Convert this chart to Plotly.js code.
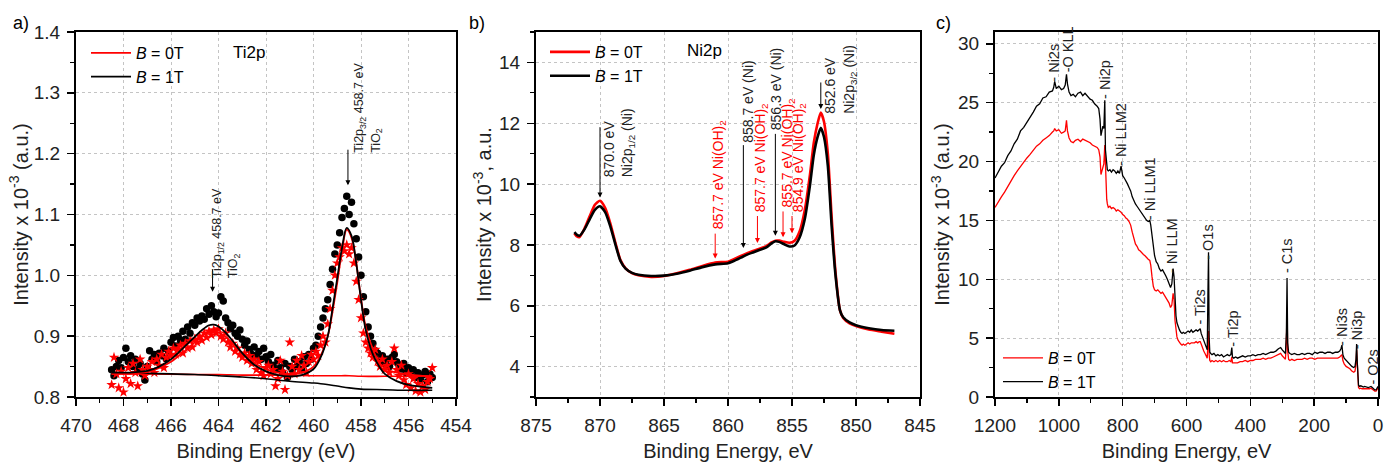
<!DOCTYPE html>
<html><head><meta charset="utf-8">
<script src="https://cdn.plot.ly/plotly-3.0.1.min.js"></script>
<style>html,body{margin:0;padding:0;background:#fff}#chart{width:1386px;height:462px}</style>
</head><body><div id="chart"></div>
<script>
// ---------- Panel a: Ti2p ----------
const tiX = [468.5,468.4,468.3,468.2,468.1,468.0,
467.9,467.8,467.7,467.6,467.5,467.4,467.3,467.2,467.1,467.0,
466.9,466.8,466.7,466.6,466.5,466.4,466.3,466.2,466.1,466.0,
465.9,465.8,465.7,465.6,465.5,465.4,465.3,465.2,465.1,465.0,
464.9,464.8,464.7,464.6,464.5,464.4,464.3,464.2,464.1,464.0,
463.9,463.8,463.7,463.6,463.5,463.4,463.3,463.2,463.1,463.0,
462.9,462.8,462.7,462.6,462.5,462.4,462.3,462.2,462.1,462.0,
461.9,461.8,461.7,461.6,461.5,461.4,461.3,461.2,461.1,461.0,
460.9,460.8,460.7,460.6,460.5,460.4,460.3,460.2,460.1,460.0,
459.9,459.8,459.7,459.6,459.5,459.4,459.3,459.2,459.1,459.0,
458.9,458.8,458.7,458.6,458.5,458.4,458.3,458.2,458.1,458.0,
457.9,457.8,457.7,457.6,457.5,457.4,457.3,457.2,457.1,457.0,
456.9,456.8,456.7,456.6,456.5,456.4,456.3,456.2,456.1,456.0,
455.9,455.8,455.7,455.6,455.5,455.4,455.3,455.2,455.1,455.0];
const ti1T = [0.845,0.835,0.850,0.860,0.848,0.865,
0.880,0.858,0.868,0.850,0.862,0.845,0.855,0.838,0.828,0.850,
0.876,0.862,0.870,0.858,0.872,0.868,0.880,0.863,0.875,0.890,
0.898,0.884,0.900,0.893,0.908,0.895,0.915,0.905,0.922,0.918,
0.930,0.925,0.933,0.928,0.945,0.936,0.950,0.940,0.932,0.938,
0.965,0.958,0.930,0.922,0.912,0.918,0.905,0.900,0.910,0.895,
0.885,0.892,0.878,0.870,0.882,0.868,0.875,0.862,0.880,0.866,
0.858,0.870,0.852,0.845,0.860,0.848,0.840,0.855,0.832,0.850,
0.845,0.862,0.850,0.858,0.845,0.866,0.855,0.870,0.862,0.880,
0.885,0.900,0.915,0.930,0.945,0.960,0.985,1.010,1.035,1.050,
1.070,1.095,1.110,1.130,1.100,1.120,1.085,1.060,1.030,1.000,
0.965,0.940,0.915,0.900,0.888,0.876,0.872,0.860,0.868,0.855,
0.862,0.850,0.865,0.870,0.858,0.852,0.846,0.855,0.840,0.848,
0.838,0.845,0.832,0.840,0.828,0.836,0.842,0.825,0.838,0.832];
const ti0T = [0.820,0.865,0.838,0.815,0.842,0.808,
0.830,0.848,0.822,0.855,0.840,0.818,0.862,0.845,0.835,0.850,
0.845,0.858,0.840,0.862,0.852,0.870,0.848,0.865,0.875,0.868,
0.880,0.870,0.878,0.885,0.872,0.888,0.880,0.892,0.882,0.895,
0.890,0.900,0.893,0.905,0.898,0.908,0.902,0.910,0.905,0.912,
0.900,0.895,0.905,0.890,0.882,0.888,0.875,0.880,0.870,0.865,
0.872,0.860,0.868,0.855,0.862,0.845,0.858,0.840,0.835,0.848,
0.852,0.838,0.845,0.818,0.830,0.860,0.842,0.812,0.835,0.890,
0.850,0.838,0.860,0.845,0.868,0.852,0.840,0.858,0.870,0.862,
0.875,0.868,0.885,0.900,0.890,0.920,0.945,0.975,1.000,1.020,
1.030,1.045,1.040,1.050,1.035,1.045,1.020,0.990,0.960,0.930,
0.905,0.890,0.880,0.872,0.865,0.878,0.858,0.850,0.862,0.845,
0.852,0.840,0.858,0.880,0.845,0.835,0.852,0.828,0.820,0.838,
0.815,0.830,0.810,0.822,0.808,0.818,0.812,0.825,0.830,0.848];
const tiFitX = [468.5,468,467.5,467,466.5,466,465.5,465,464.7,464.4,464.2,464,463.7,463.4,463,462.5,462,461.5,461,460.5,460,459.7,459.4,459.2,459,458.8,458.6,458.4,458.2,458,457.8,457.5,457.2,457,456.5,456,455.5,455];
const tiFit1T = [0.840,0.840,0.841,0.843,0.850,0.862,0.880,0.899,0.910,0.918,0.919,0.916,0.906,0.892,0.872,0.853,0.842,0.836,0.834,0.836,0.846,0.865,0.900,0.945,0.995,1.045,1.078,1.065,1.020,0.960,0.910,0.870,0.848,0.838,0.826,0.820,0.817,0.815];
const tiFit0T = [0.838,0.838,0.839,0.841,0.848,0.858,0.873,0.890,0.900,0.907,0.908,0.906,0.899,0.888,0.872,0.856,0.846,0.840,0.838,0.840,0.850,0.868,0.900,0.940,0.988,1.040,1.075,1.062,1.020,0.962,0.915,0.878,0.855,0.847,0.840,0.837,0.835,0.834];
const tiBaseX = [468.5,467,465,464,463,462,461,460,459.5,459,458.5,458,457,456,455];
const tiBase1T = [0.840,0.839,0.837,0.835,0.833,0.830,0.826,0.823,0.821,0.818,0.815,0.813,0.812,0.811,0.811];
const tiBase0T = [0.838,0.838,0.837,0.837,0.836,0.836,0.836,0.835,0.835,0.835,0.835,0.834,0.834,0.834,0.834];

// ---------- Panel b: Ni2p ----------
const niX = [872,871.8,871.6,871.2,870.8,870.4,870.0,869.6,869.2,868.8,868.4,868,867.5,867,866,865,864,863,862,861,860,859.5,859,858.5,858,857.5,857,856.6,856.3,856,855.6,855.2,854.8,854.4,854,853.6,853.3,853,852.75,852.5,852.2,851.9,851.6,851.25,851,850.5,850,849,848,847];
const ni1T = [8.42,8.33,8.30,8.52,8.85,9.15,9.27,9.08,8.62,8.02,7.47,7.22,7.08,7.02,6.98,6.99,7.05,7.15,7.27,7.36,7.40,7.48,7.58,7.68,7.76,7.84,7.92,8.05,8.12,8.10,8.02,7.95,7.98,8.25,8.85,9.95,10.95,11.55,11.85,11.55,10.6,8.6,7.0,5.85,5.62,5.45,5.36,5.26,5.20,5.18];
const ni0T = [8.38,8.28,8.26,8.55,8.95,9.32,9.45,9.22,8.72,8.08,7.50,7.23,7.07,7.00,6.95,6.98,7.07,7.18,7.31,7.42,7.45,7.54,7.64,7.73,7.81,7.88,7.96,8.08,8.14,8.14,8.10,8.07,8.14,8.45,9.15,10.3,11.35,12.0,12.35,12.05,11.0,8.9,7.1,5.85,5.60,5.42,5.33,5.22,5.15,5.08];

// ---------- Panel c: survey ----------
const svX = [1200,1190,1180,1170,1160,1150,1140,1130,1120,1110,
1100,1090,1080,1070,1060,1050,1040,1030,1020,1016,
1013,1008,1000,992,985,980,976,973,968,962,
955,948,940,932,925,918,910,902,895,888,
880,875,871,868,865,862,859,856,854,852,
850,848,845,840,835,830,825,820,815,810,
805,800,795,790,785,780,775,770,765,760,
755,750,745,740,735,730,725,720,715,712,
708,704,700,695,690,685,680,675,670,665,
660,655,650,646,642,639,636,633,630,626,
622,618,614,610,605,600,595,590,585,580,
575,570,565,560,557,554,550,546,542,538,
535,533,531,529,527,524,520,514,508,502,
496,490,484,478,472,466,461,458,456,452,
446,440,432,424,416,408,400,392,384,376,
368,360,352,344,336,328,320,312,305,300,
295,290,287,285,283,280,276,270,262,254,
246,238,230,222,214,206,198,190,182,174,
166,158,150,142,134,126,120,116,113,110,
106,100,94,88,82,76,72,69,67,65,
63,61,58,54,50,46,42,38,34,30,
26,22,18,14,10,6,3,0];
const sv1T = [18.6,19.1,19.6,19.9,20.5,20.9,21.5,21.9,22.6,22.9,
23.3,23.7,24.2,24.7,24.9,25.4,25.5,25.9,26.0,26.3,
26.8,26.2,26.4,26.1,26.2,26.5,27.4,26.6,25.9,25.6,
25.7,25.5,25.8,25.9,25.6,25.8,25.5,25.3,25.2,24.9,
24.7,24.5,23.6,22.2,22.6,23.0,22.8,25.2,21.0,20.2,
19.6,19.3,19.2,19.3,19.1,19.3,19.2,19.0,19.2,19.0,
19.6,18.8,18.6,18.4,18.1,17.8,17.5,17.0,16.6,16.4,
16.2,16.0,15.8,15.5,15.4,15.2,15.0,14.9,15.0,14.6,
13.6,12.6,12.0,11.5,11.3,10.9,10.7,10.8,10.6,10.3,
10.0,9.7,9.3,9.6,10.9,10.2,8.0,6.9,6.3,5.9,
5.7,5.5,5.4,5.5,5.4,5.5,5.6,5.5,5.7,5.5,
5.6,5.7,5.6,5.7,5.8,5.4,5.1,4.9,4.6,4.2,
4.0,8.5,12.3,5.0,3.8,3.7,3.6,3.7,3.5,3.6,
3.5,3.6,3.4,3.5,3.6,3.5,3.6,4.2,3.4,3.3,
3.4,3.3,3.4,3.5,3.4,3.5,3.5,3.6,3.5,3.6,
3.6,3.7,3.6,3.7,3.8,3.8,3.9,4.1,4.2,4.0,
3.8,3.7,5.5,10.1,4.6,3.8,3.7,3.6,3.7,3.6,
3.6,3.7,3.6,3.7,3.7,3.6,3.8,3.7,3.8,3.8,
3.7,3.8,3.8,3.7,3.8,3.8,3.9,4.1,4.4,3.6,
3.3,3.1,2.9,2.8,2.6,2.5,2.6,3.2,4.5,3.0,
1.4,1.0,0.9,0.95,0.9,0.85,0.9,0.85,0.8,0.8,
0.85,0.9,0.8,0.7,0.6,0.6,0.7,0.9];
const sv0T = [16.1,16.6,17.0,17.4,17.9,18.3,18.8,19.2,19.6,20.0,
20.3,20.6,21.0,21.3,21.5,21.8,22.0,22.2,22.5,22.6,
22.8,22.6,22.7,22.4,22.5,22.6,23.5,22.6,22.0,21.7,
21.6,21.8,21.9,21.7,21.9,21.8,21.7,21.6,21.4,21.3,
21.2,21.0,20.4,18.9,19.2,19.6,19.8,21.4,19.0,17.6,
16.8,16.4,16.1,16.2,16.0,16.1,16.0,15.8,15.9,15.8,
15.7,15.5,15.4,15.2,15.1,14.9,14.6,14.0,13.4,13.0,
12.8,12.5,12.4,12.2,12.1,12.0,11.8,11.7,11.6,11.2,
10.2,9.4,9.1,9.0,9.1,8.9,8.8,8.9,8.7,8.5,
8.3,8.0,7.6,7.8,8.8,8.3,6.5,5.6,5.1,4.8,
4.6,4.5,4.4,4.5,4.4,4.5,4.6,4.5,4.6,4.6,
4.6,4.7,4.6,4.7,4.7,4.5,4.1,3.9,3.7,3.4,
3.3,4.5,5.6,3.6,3.1,3.0,3.1,3.0,3.1,3.0,
3.1,3.0,3.1,3.0,3.0,3.1,3.0,3.4,2.9,2.9,
2.9,2.9,3.0,3.0,3.1,3.0,3.1,3.1,3.2,3.2,
3.2,3.3,3.2,3.3,3.3,3.4,3.5,3.6,3.7,3.5,
3.3,3.2,4.8,7.6,3.9,3.2,3.1,3.2,3.1,3.2,
3.2,3.2,3.3,3.2,3.3,3.3,3.2,3.3,3.3,3.3,
3.3,3.3,3.3,3.3,3.3,3.3,3.4,3.5,3.6,3.1,
2.8,2.6,2.5,2.4,2.2,2.1,2.2,2.8,4.0,2.6,
1.1,0.8,0.7,0.75,0.7,0.7,0.7,0.7,0.65,0.7,
0.7,0.75,0.65,0.55,0.5,0.5,0.6,0.75];

// ---------- Labels ----------
const legendNames = ['<i>B</i> = 0T', '<i>B</i> = 1T'];
const RED = '#ff0000', BLK = '#000000', TXT = '#222222';
const FONT = 'Liberation Sans, Arial, sans-serif';
const W = 1386, H = 462;

const traces = [
  // panel a
  {x: tiX, y: ti1T, xaxis:'x', yaxis:'y', mode:'markers', type:'scatter', showlegend:false,
   marker:{symbol:'circle', size:7.5, color:BLK}},
  {x: tiX, y: ti0T, xaxis:'x', yaxis:'y', mode:'markers', type:'scatter', showlegend:false,
   marker:{symbol:'star', size:8, color:RED, line:{width:0}}},
  {x: tiBaseX, y: tiBase0T, xaxis:'x', yaxis:'y', mode:'lines', showlegend:false,
   line:{color:RED, width:1.6, shape:'spline'}},
  {x: tiBaseX, y: tiBase1T, xaxis:'x', yaxis:'y', mode:'lines', showlegend:false,
   line:{color:BLK, width:1.6, shape:'spline'}},
  {x: tiFitX, y: tiFit0T, xaxis:'x', yaxis:'y', mode:'lines', name:legendNames[0], legend:'legend',
   line:{color:RED, width:1.8, shape:'spline'}},
  {x: tiFitX, y: tiFit1T, xaxis:'x', yaxis:'y', mode:'lines', name:legendNames[1], legend:'legend',
   line:{color:BLK, width:1.8, shape:'spline'}},
  // panel b
  {x: niX, y: ni0T, xaxis:'x2', yaxis:'y2', mode:'lines', name:legendNames[0], legend:'legend2',
   line:{color:RED, width:2.6, shape:'spline', smoothing:0.6}},
  {x: niX, y: ni1T, xaxis:'x2', yaxis:'y2', mode:'lines', name:legendNames[1], legend:'legend2',
   line:{color:BLK, width:2.6, shape:'spline', smoothing:0.6}},
  // panel c
  {x: svX, y: sv0T, xaxis:'x3', yaxis:'y3', mode:'lines', name:legendNames[0], legend:'legend3',
   line:{color:RED, width:1.3}},
  {x: svX, y: sv1T, xaxis:'x3', yaxis:'y3', mode:'lines', name:legendNames[1], legend:'legend3',
   line:{color:BLK, width:1.3}}
];

function axis(extra) {
  const base = {
    showline:true, linecolor:'#000', linewidth:2, mirror:true,
    ticks:'outside', ticklen:7, tickwidth:1.5, tickcolor:'#000',
    showgrid:true, gridcolor:'#c4c4c4', griddash:'dot', gridwidth:1,
    zeroline:false, automargin:false, fixedrange:true,
    tickfont:{family:FONT, size:19, color:TXT},
    ticklabelstandoff:3
  };
  const o = Object.assign({}, base, extra);
  o.minor = Object.assign({ticks:'outside', ticklen:4, tickwidth:1.2, tickcolor:'#000', showgrid:false}, extra.minor||{});
  return o;
}
const yDom = [1-397/H, 1-32/H];
function xt(t){ return {text:t, font:{family:FONT, size:20, color:TXT}, standoff:12}; }
function yt(t, s){ return {text:t, font:{family:FONT, size:20, color:TXT}, standoff:s}; }

const legBase = {xanchor:'left', yanchor:'top', bgcolor:'rgba(0,0,0,0)', font:{family:FONT, size:16, color:'#000'}, itemwidth:40, tracegroupgap:0};

const layout = {
  width: W, height: H,
  margin:{l:0, r:0, t:0, b:0},
  paper_bgcolor:'#fff', plot_bgcolor:'#fff',
  font:{family:FONT, color:TXT},
  xaxis: axis({domain:[76/W, 456/W], range:[470,454], dtick:2, tick0:0, anchor:'y', minor:{dtick:1}, title:xt('Binding Energy (eV)')}),
  yaxis: axis({domain:yDom, range:[0.8,1.4], dtick:0.1, tick0:0, tickformat:'.1f', anchor:'x', minor:{dtick:0.05}, title:yt('Intensity x 10<sup>-3</sup> (a.u.)', 0)}),
  xaxis2: axis({domain:[536/W, 920/W], range:[875,845], dtick:5, tick0:0, anchor:'y2', minor:{dtick:2.5}, title:xt('Binding Energy, eV')}),
  yaxis2: axis({domain:yDom, range:[3,15], dtick:2, tick0:0, anchor:'x2', minor:{dtick:1}, title:yt('Intensity x 10<sup>-3</sup>, a.u.', 2)}),
  xaxis3: axis({domain:[995/W, 1378/W], range:[1200,0], dtick:200, tick0:0, anchor:'y3', minor:{dtick:100}, title:xt('Binding Energy, eV')}),
  yaxis3: axis({domain:yDom, range:[0,31], dtick:5, tick0:0, anchor:'x3', minor:{dtick:2.5}, title:yt('Intensity x 10<sup>-3</sup> (a.u.)', 3)}),
  legend: Object.assign({x:86/W, y:1-36/H}, legBase),
  legend2: Object.assign({x:545/W, y:1-35/H}, legBase),
  legend3: Object.assign({x:998/W, y:1-341/H}, legBase),
  annotations: []
};

// panel letters
[['a)', 21], ['b)', 477], ['c)', 943]].forEach(function(p){
  layout.annotations.push({xref:'paper', yref:'paper', x:p[1]/W, y:1-23/H, text:p[0], showarrow:false,
    font:{family:FONT, size:18, color:'#000'}, xanchor:'center', yanchor:'middle'});
});

function label(ax, x, y, text, color, size) {
  layout.annotations.push({xref:'x'+ax, yref:'y'+ax, x:x, y:y, text:text, showarrow:false, textangle:-90,
    xanchor:'center', yanchor:'bottom', align:'left', borderpad:0,
    font:{family:FONT, size:size||14, color:color||TXT}});
}
function arrow(ax, x, yHead, yTail, color) {
  layout.annotations.push({xref:'x'+ax, yref:'y'+ax, x:x, y:yHead, axref:'x'+ax, ayref:'y'+ax, ax:x, ay:yTail,
    text:'', showarrow:true, arrowhead:2, arrowsize:1, arrowwidth:1, arrowcolor:color||'#000', standoff:0, startstandoff:0});
}
function plain(ax, x, y, text, size) {
  layout.annotations.push({xref:'x'+ax, yref:'y'+ax, x:x, y:y, text:text, showarrow:false,
    xanchor:'center', yanchor:'middle', font:{family:FONT, size:size, color:'#000'}});
}

// panel a annotations
plain('', 462.7, 1.367, 'Ti2p', 17);
arrow('', 464.25, 0.973, 1.012);
label('', 463.7, 0.993, 'Ti2p<sub>1/2</sub> 458.7 eV<br>TiO<sub>2</sub>', TXT, 12.5);
arrow('', 458.55, 1.148, 1.209);
label('', 457.7, 1.200, 'Ti2p<sub>3/2</sub> 458.7 eV<br>TiO<sub>2</sub>', TXT, 12.5);

// panel b annotations
plain('2', 861.8, 14.38, 'Ni2p', 17);
arrow('2', 870.0, 9.56, 11.92);
label('2', 868.5, 10.18, '870.0 eV<br>Ni2p<sub>1/2</sub> (Ni)');
arrow('2', 861.0, 7.55, 8.42, RED);
label('2', 860.75, 8.48, '857.7 eV Ni(OH)<sub>2</sub>', RED);
arrow('2', 858.8, 7.9, 11.33);
label('2', 858.5, 11.33, '858.7 eV (Ni)');
arrow('2', 857.7, 8.06, 9.0, RED);
label('2', 857.4, 9.03, '857.7 eV Ni(OH)<sub>2</sub>', RED);
arrow('2', 856.3, 8.3, 11.7);
label('2', 856.3, 11.75, '856.3 eV (Ni)');
arrow('2', 855.7, 8.25, 9.15, RED);
label('2', 855.35, 9.2, '855.7 eV Ni(OH)<sub>2</sub>', RED);
arrow('2', 855.0, 8.38, 9.0, RED);
label('2', 854.45, 9.03, '854.9 eV Ni(OH)<sub>2</sub>', RED);
arrow('2', 852.75, 12.47, 13.39);
label('2', 851.2, 12.28, '852.6 eV<br>Ni2p<sub>3/2</sub> (Ni)');

// panel c annotations
const svLabels = [
  ['- Ni2s', 1015, 26.7], ['-O KLL', 971, 27.5], ['- Ni2p', 855, 25.2], ['- Ni LLM2', 805, 19.5],
  ['- Ni LLM1', 714, 14.9], ['- Ni LLM', 645, 10.4], ['- O1s', 533, 11.6], ['- Ti2s', 558, 6.1],
  ['- Ti2p', 457, 4.2], ['- C1s', 285, 10.4], ['- Ni3s', 113, 4.25], ['- Ni3p', 66, 4.0], ['- O2s', 16, 1.0]
];
svLabels.forEach(function(l){ label('3', l[1], l[2], l[0], TXT, 14.5); });

Plotly.newPlot('chart', traces, layout, {staticPlot:true, displayModeBar:false});
</script>
</body></html>
